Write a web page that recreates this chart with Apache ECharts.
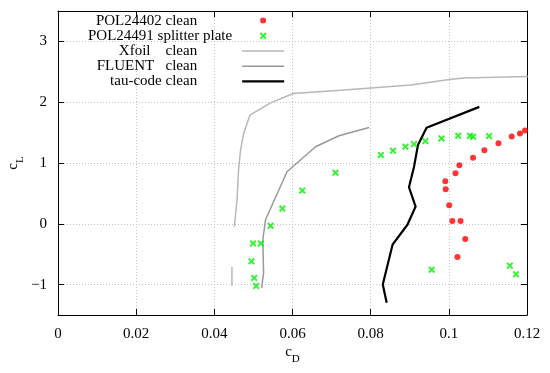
<!DOCTYPE html>
<html>
<head>
<meta charset="utf-8">
<script src="https://cdn.jsdelivr.net/npm/echarts@6/dist/echarts.min.js"></script>
<style>html,body{margin:0;padding:0;background:#fff;}#c{width:550px;height:373px;}</style>
</head>
<body>
<div id="c"></div>
<script>
// Data: [cD, cL]
const polClean = [
  [0.1195,1.536],[0.1182,1.487],[0.1161,1.437],[0.1127,1.323],[0.1091,1.208],
  [0.1062,1.087],[0.1027,0.962],[0.1017,0.831],[0.0991,0.700],[0.0992,0.568],
  [0.1001,0.306],[0.1009,0.044],[0.1030,0.044],[0.1042,-0.251],[0.1022,-0.546]
];
const polSplitter = [
  [0.0507,-1.022],[0.0502,-0.891],[0.0495,-0.618],[0.0499,-0.323],[0.0519,-0.323],
  [0.0544,-0.033],[0.0574,0.251],[0.0625,0.546],[0.0710,0.841],[0.0826,1.131],
  [0.0857,1.202],[0.0889,1.268],[0.0911,1.311],[0.0940,1.361],[0.0981,1.405],
  [0.1024,1.448],[0.1054,1.448],[0.1062,1.432],[0.1103,1.443],
  [0.0956,-0.754],[0.1156,-0.689],[0.1172,-0.831]
];
const xfoilMain = [
  [0.0451,-0.055],[0.0458,0.39],[0.0462,0.885],[0.0467,1.21],[0.0475,1.487],
  [0.0491,1.787],[0.0544,1.989],[0.0602,2.142],[0.0723,2.197],[0.0903,2.284],
  [0.1001,2.372],[0.1039,2.398],[0.1202,2.421]
];
const xfoilLow = [[0.0445,-0.71],[0.0445,-1.02]];
const fluent = [
  [0.0521,-1.054],[0.0526,-0.809],[0.0524,-0.262],[0.0531,0.066],[0.0586,0.857],
  [0.0659,1.268],[0.0719,1.448],[0.0796,1.585]
];
const tauCode = [
  [0.0841,-1.30],[0.0831,-1.0],[0.0856,-0.344],[0.0894,-0.016],[0.0915,0.284],
  [0.0898,0.601],[0.0911,0.940],[0.0921,1.295],[0.0943,1.579],[0.1078,1.923]
];
const seriesNames = ['POL24402 clean','POL24491 splitter plate','Xfoil    clean','FLUENT   clean','tau-code clean'];

const FONT = 'Liberation Serif';
const xSymbol = 'path://M0,2 L2,0 L5,3 L8,0 L10,2 L7,5 L10,8 L8,10 L5,7 L2,10 L0,8 L3,5 Z';
// legend icons inside a 42x10 box (corner specks fix the box)
const box = 'M0,0 L0.01,0 L0,0.01 Z M42,10 L41.99,10 L42,9.99 Z ';
const iconDot = 'path://' + box + 'M18,5 A3,3 0 1,0 24,5 A3,3 0 1,0 18,5 Z';
const iconX = 'path://' + box + 'M17.5,2.9 L18.9,1.5 L21,3.6 L23.1,1.5 L24.5,2.9 L22.4,5 L24.5,7.1 L23.1,8.5 L21,6.4 L18.9,8.5 L17.5,7.1 L19.6,5 Z';
const iconThin = 'path://' + box + 'M0,4.3 L42,4.3 L42,5.7 L0,5.7 Z';
const iconThick = 'path://' + box + 'M0,3.9 L42,3.9 L42,6.1 L0,6.1 Z';

const sub = {fontFamily: FONT, fontSize: 11, color:'#000', verticalAlign:'bottom', padding:[0,0,-5,0]};

const chart = echarts.init(document.getElementById('c'), null, {renderer:'canvas'});
const axisCommon = {
  axisLine:{show:true, onZero:false, lineStyle:{color:'#000', width:1}},
  axisTick:{show:true, inside:true, length:6, lineStyle:{color:'#000'}},
};
chart.setOption({
  animation:false,
  backgroundColor:'#fff',
  grid:{left:58, right:23, top:11, bottom:58, outerBoundsMode:'none', containLabel:false},
  legend:{
    orient:'vertical', left:83, top:8, align:'right',
    itemWidth:42, itemHeight:10, itemGap:0, symbolKeepAspect:true,
    formatter:function(name){ return name === seriesNames[1] ? name + '{h| }' : name + '{g| }'; },
    textStyle:{fontFamily:FONT, fontSize:15, color:'#000', lineHeight:15.2,
      rich:{g:{width:40, fontFamily:FONT, fontSize:15, lineHeight:15.2}, h:{width:5, fontFamily:FONT, fontSize:15, lineHeight:15.2}}},
    data:[
      {name:seriesNames[0], icon:iconDot},
      {name:seriesNames[1], icon:iconX},
      {name:seriesNames[2], icon:iconThin},
      {name:seriesNames[3], icon:iconThin},
      {name:seriesNames[4], icon:iconThick}
    ]
  },
  xAxis:[
    Object.assign({
      type:'value', min:0, max:0.12, interval:0.02, position:'bottom',
      splitLine:{show:true, lineStyle:{color:'#c4c4c4', type:[1,2], width:1}},
      axisLabel:{fontFamily:FONT, fontSize:15, color:'#000', margin:12},
      name:'c{sub|D}', nameLocation:'middle', nameGap:30, nameMoveOverlap:false,
      nameTextStyle:{fontFamily:FONT, fontSize:15, color:'#000', rich:{sub:sub}}
    }, axisCommon),
    Object.assign({
      type:'value', min:0, max:0.12, interval:0.02, position:'top',
      splitLine:{show:false}, axisLabel:{show:false}
    }, axisCommon)
  ],
  yAxis:[
    Object.assign({
      type:'value', min:-1.5, max:3.5, position:'left',
      splitLine:{show:true, lineStyle:{color:'#c4c4c4', type:[1,2], width:1}},
      axisLabel:{fontFamily:FONT, fontSize:15, color:'#000', margin:11, showMinLabel:false, showMaxLabel:false,
        formatter:function(v){return String(v).replace('-', '\u2212');}},
      name:'c{sub|L}', nameLocation:'middle', nameGap:37, nameRotate:90, nameMoveOverlap:false,
      nameTextStyle:{fontFamily:FONT, fontSize:15, color:'#000', rich:{sub:sub}}
    }, axisCommon),
    Object.assign({
      type:'value', min:-1.5, max:3.5, position:'right',
      splitLine:{show:false}, axisLabel:{show:false}
    }, axisCommon)
  ],
  series:[
    {name:seriesNames[2], type:'line', data:xfoilMain, symbol:'none', lineStyle:{color:'#b8b8b8', width:1.5}, itemStyle:{color:'#b8b8b8'}, z:2},
    {name:seriesNames[2], type:'line', data:xfoilLow, symbol:'none', lineStyle:{color:'#b8b8b8', width:1.5}, itemStyle:{color:'#b8b8b8'}, z:2},
    {name:seriesNames[3], type:'line', data:fluent, symbol:'none', lineStyle:{color:'#999999', width:1.5}, itemStyle:{color:'#999999'}, z:2},
    {name:seriesNames[4], type:'line', data:tauCode, symbol:'none', lineStyle:{color:'#000', width:2.2}, itemStyle:{color:'#000'}, z:3},
    {name:seriesNames[0], type:'scatter', data:polClean, symbol:'circle', symbolSize:6, itemStyle:{color:'#ff0000'}, z:4},
    {name:seriesNames[1], type:'scatter', data:polSplitter, symbol:xSymbol, symbolSize:7, itemStyle:{color:'#00f000'}, z:4}
  ]
});
</script>
</body>
</html>
